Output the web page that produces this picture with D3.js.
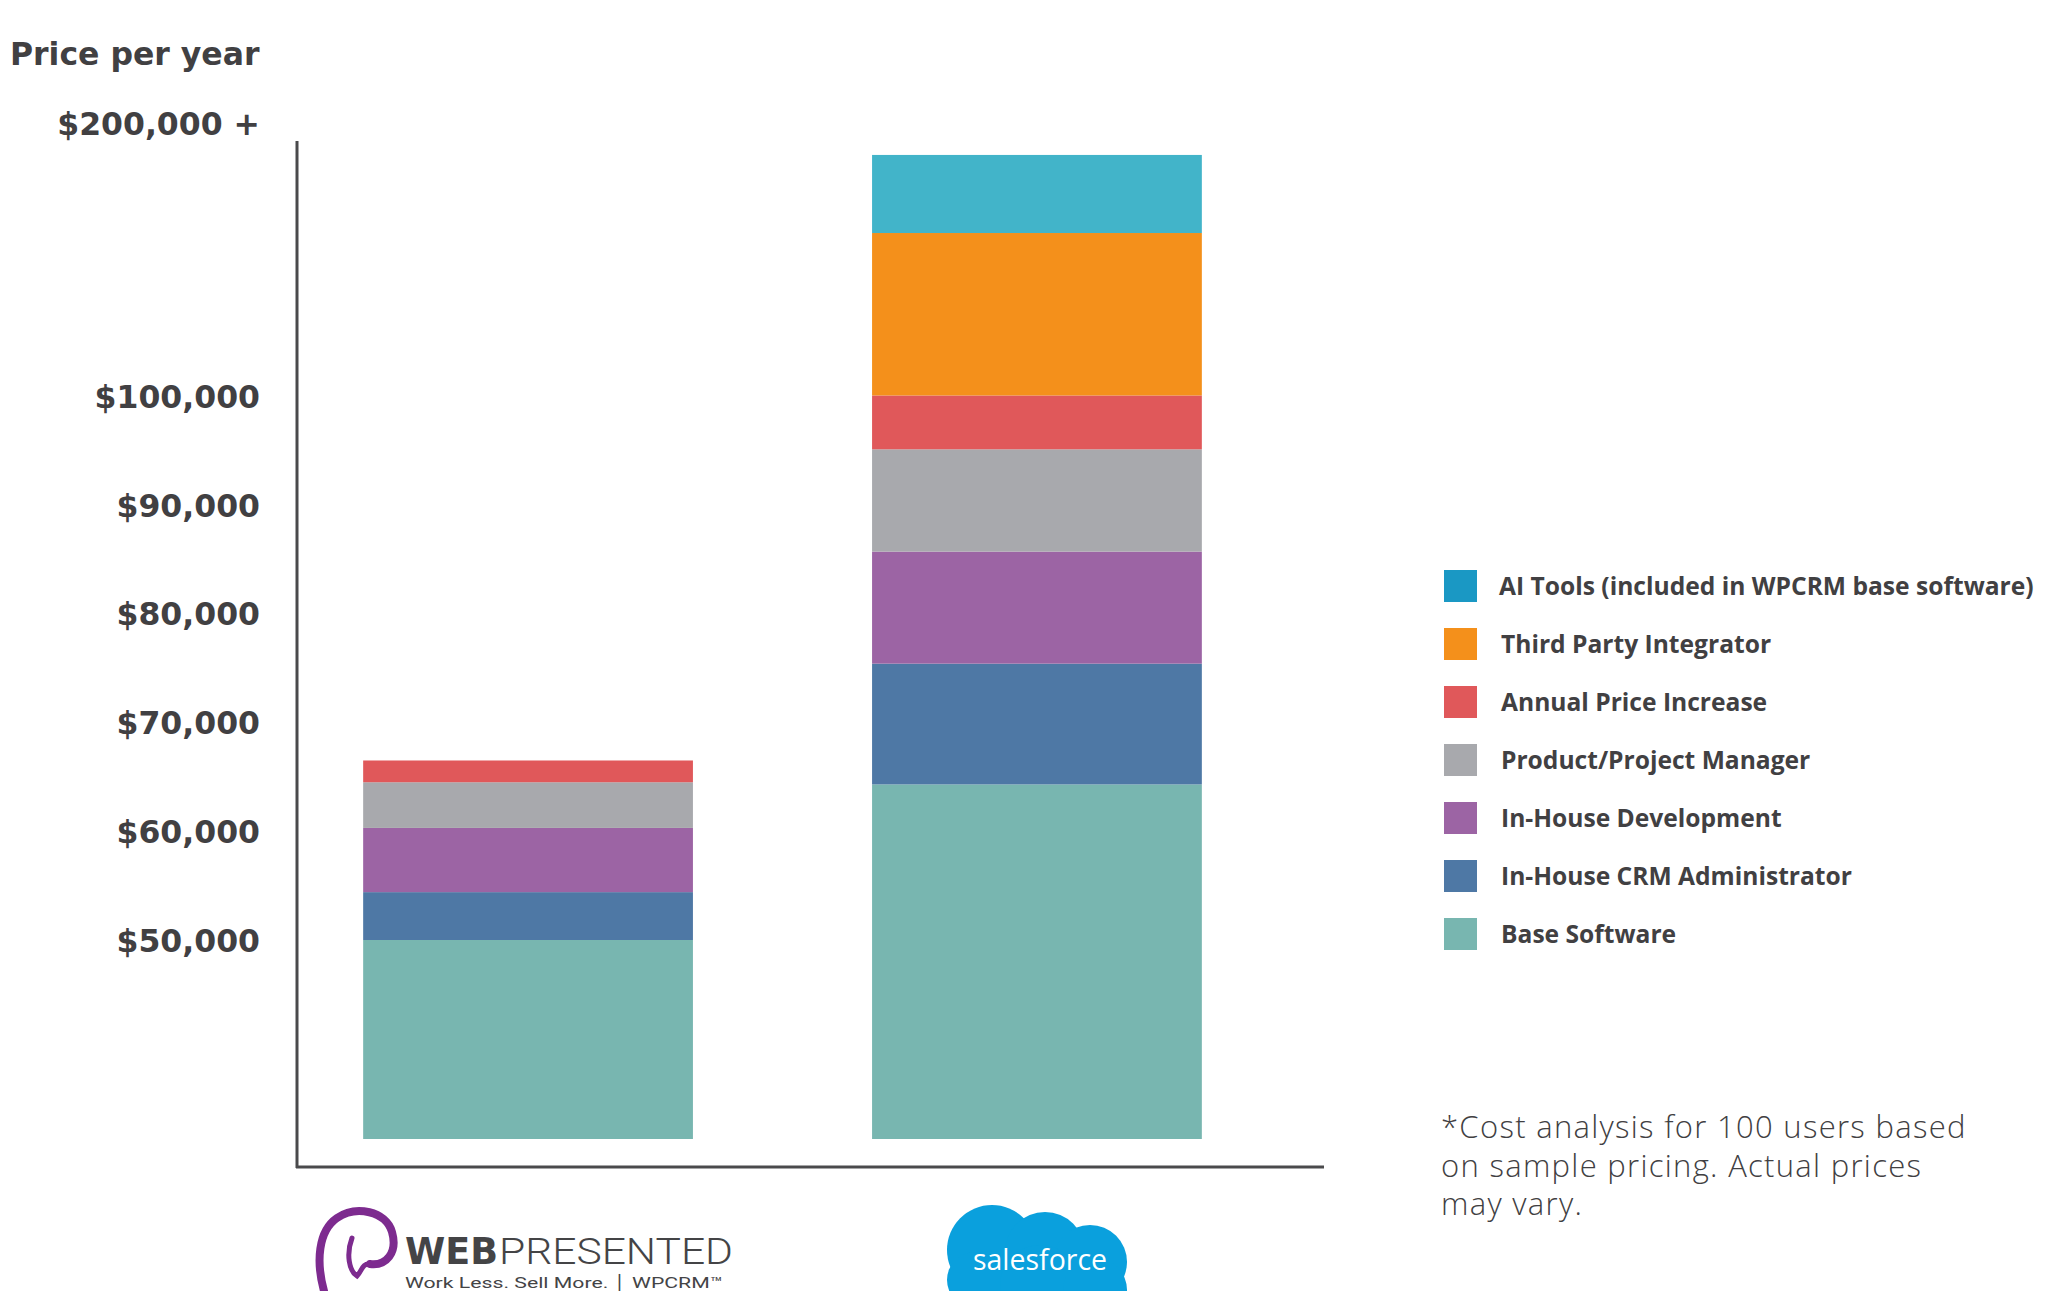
<!DOCTYPE html>
<html><head><meta charset="utf-8">
<script src="https://cdn.jsdelivr.net/npm/d3@7/dist/d3.min.js"></script>
<style>body{margin:0;background:#fff}svg{display:block}</style>
</head><body>
<svg id="chart" width="2055" height="1291"></svg>
<script>
// ---------- data ----------
const vendors = ["WebPresented", "Salesforce"];
const seriesNames = [
  "Base Software",
  "In-House CRM Administrator",
  "In-House Development",
  "Product/Project Manager",
  "Annual Price Increase",
  "Third Party Integrator",
  "AI Tools (included in WPCRM base software)"
];
const webPresentedValues = [50000, 4400, 5900, 4200, 2000, 0, 0];
const salesforceValues   = [64300, 11100, 10300, 9400, 5100, 59500, 28600];
const seriesColors = ["#78b6b0", "#4e78a5", "#9c64a4", "#a8a9ad", "#e0585a", "#f4901b", "#42b4c9"];
const legendColors = ["#78b6b0", "#4e78a5", "#9c64a4", "#a8a9ad", "#e0585a", "#f4901b", "#1a98c4"];
const tickValues = [50000, 60000, 70000, 80000, 90000, 100000, 200000];
const tickLabels = ["$50,000", "$60,000", "$70,000", "$80,000", "$90,000", "$100,000", "$200,000 +"];
const yTitle = "Price per year";
const footnoteLines = ["*Cost analysis for 100 users based", "on sample pricing. Actual prices", "may vary."];

// ---------- build table ----------
const valuesByVendor = [webPresentedValues, salesforceValues];
const table = vendors.map((v, i) => {
  const row = {vendor: v};
  seriesNames.forEach((s, j) => row[s] = valuesByVendor[i][j]);
  return row;
});
const stacked = d3.stack().keys(seriesNames)(table);

const svg = d3.select("#chart");
const textColor = "#414042";

// broken (piecewise) value scale
const y = d3.scaleLinear()
  .domain([0, 50000, 100000, 200000])
  .range([1139, 940, 396, 123]);

const x = d3.scaleBand()
  .domain(vendors)
  .range([297, 1268])
  .paddingInner(0.352)
  .paddingOuter(0.13);

// bars
const color = d3.scaleOrdinal().domain(seriesNames).range(seriesColors);
svg.append("g").selectAll("g")
  .data(stacked).join("g")
  .attr("fill", d => color(d.key))
  .selectAll("rect")
  .data(d => d.filter(p => p[1] - p[0] > 0))
  .join("rect")
  .attr("x", d => x(d.data.vendor))
  .attr("width", x.bandwidth())
  .attr("y", d => y(d[1]))
  .attr("height", d => y(d[0]) - y(d[1]));

// axis lines
const axisColor = "#4a4a4c";
svg.append("line").attr("x1", 297).attr("x2", 297).attr("y1", 141).attr("y2", 1168)
  .attr("stroke", axisColor).attr("stroke-width", 3);
svg.append("line").attr("x1", 296).attr("x2", 1324).attr("y1", 1167).attr("y2", 1167)
  .attr("stroke", axisColor).attr("stroke-width", 3);

// y tick labels via d3 axis
const yAxis = d3.axisLeft(y)
  .tickValues(tickValues)
  .tickFormat((d, i) => tickLabels[i])
  .tickSize(0)
  .tickPadding(37);
const gy = svg.append("g").attr("transform", "translate(297,0)").call(yAxis);
gy.select(".domain").remove();
gy.selectAll("text")
  .attr("fill", textColor)
  .style("font-family", "'DejaVu Sans', sans-serif")
  .style("font-weight", "bold")
  .style("font-size", "31.5px")
  .attr("dy", "0.36em");

// y title
svg.append("text").attr("x", 10).attr("y", 65)
  .attr("fill", textColor)
  .style("font-family", "'DejaVu Sans', sans-serif")
  .style("font-weight", "bold")
  .style("font-size", "31.5px")
  .text(yTitle);

// legend
const legendOrder = seriesNames.map((s, i) => i).reverse();
const lg = svg.append("g").selectAll("g")
  .data(legendOrder).join("g")
  .attr("transform", (d, k) => `translate(1444,${570 + k * 58})`);
lg.append("rect").attr("width", 33).attr("height", 32).attr("fill", d => legendColors[d]);
lg.append("text")
  .attr("x", (d, k) => k === 0 ? 55 : 57)
  .attr("y", 16).attr("dy", "0.36em")
  .attr("fill", textColor)
  .style("font-family", "'Open Sans', sans-serif")
  .style("font-weight", "700")
  .style("font-size", "24.6px")
  .text(d => seriesNames[d]);

// footnote
svg.append("g").selectAll("text")
  .data(footnoteLines).join("text")
  .attr("x", 1441).attr("y", (d, i) => 1138 + i * 38.5)
  .attr("fill", textColor)
  .style("font-family", "'Open Sans', sans-serif")
  .style("font-weight", "300")
  .style("font-size", "31px")
  .style("letter-spacing", "1.3px")
  .text(d => d);

// ---------- logos ----------
// WebPresented
const wp = svg.append("g");
const purple = "#7d2b8f";
wp.append("path")
  .attr("d", "M324,1291 C316,1262 318,1231 337,1218 C356,1205 386,1211 392,1232 C398,1253 386,1266 370,1264")
  .attr("fill", "none").attr("stroke", purple).attr("stroke-width", 8).attr("stroke-linecap", "round");
wp.append("path")
  .attr("d", "M352,1238 C346,1254 349,1271 357,1276 C362,1271 362,1263 370,1264")
  .attr("fill", "none").attr("stroke", purple).attr("stroke-width", 5).attr("stroke-linecap", "round");
wp.append("text").attr("x", 405).attr("y", 1264)
  .attr("textLength", 93).attr("lengthAdjust", "spacingAndGlyphs")
  .attr("fill", "#444446")
  .style("font-family", "'DejaVu Sans', sans-serif").style("font-weight", "bold").style("font-size", "37px")
  .text("WEB");
wp.append("text").attr("x", 499).attr("y", 1264)
  .attr("textLength", 234).attr("lengthAdjust", "spacingAndGlyphs")
  .attr("fill", "#444446")
  .style("font-family", "Roboto, sans-serif").style("font-weight", "300").style("font-size", "37px")
  .text("PRESENTED");
wp.append("text").attr("x", 405).attr("y", 1288)
  .attr("textLength", 318).attr("lengthAdjust", "spacingAndGlyphs")
  .attr("fill", "#444446")
  .style("font-family", "Roboto, sans-serif").style("font-weight", "400").style("font-size", "15.5px")
  .text("Work Less. Sell More. \u2502 WPCRM\u2122");

// Salesforce cloud
const sf = svg.append("g").attr("fill", "#0aa0dd");
[[992, 1250, 45], [1045, 1252, 40], [1090, 1262, 37], [975, 1280, 28], [1040, 1285, 40], [1095, 1290, 32]]
  .forEach(c => sf.append("circle").attr("cx", c[0]).attr("cy", c[1]).attr("r", c[2]));
svg.append("text").attr("x", 973).attr("y", 1270)
  .attr("textLength", 134).attr("lengthAdjust", "spacingAndGlyphs")
  .attr("fill", "#fff")
  .style("font-family", "'Open Sans', sans-serif").style("font-weight", "400").style("font-size", "30px")
  .text("salesforce");
</script>
</body></html>
